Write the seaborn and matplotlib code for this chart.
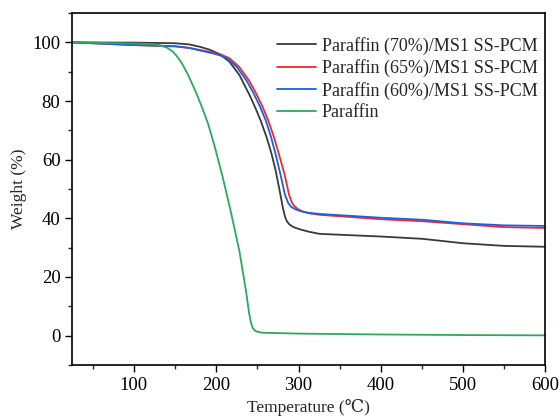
import numpy as np
import pandas as pd
import matplotlib
matplotlib.use("Agg")
import matplotlib.pyplot as plt
import seaborn as sns
from matplotlib.ticker import MultipleLocator

# TGA curves
labels = ["Paraffin (70%)/MS1 SS-PCM", "Paraffin (65%)/MS1 SS-PCM",
          "Paraffin (60%)/MS1 SS-PCM", "Paraffin"]

t70 = [25, 100, 150, 167, 180, 192, 204, 216, 228, 240, 247, 254, 261, 267, 272, 277, 281, 283.5, 286,
       289, 294, 301, 313, 325.6, 400, 451, 500, 550, 600]
w70 = [100, 99.9, 99.7, 99.3, 98.5, 97.5, 96.0, 93.4, 88.9, 82.3, 78.0, 73.3, 67.8, 62.2, 56.5, 49.5, 43.5, 40.6, 38.9,
       37.9, 37.0, 36.3, 35.4, 34.7, 33.8, 33.0, 31.5, 30.6, 30.3]

t65 = [25, 94, 150, 167, 195, 205, 216, 228, 240, 248, 256, 263, 270, 276, 283, 288.5, 292, 295, 299, 305,
       313, 325.6, 400, 451, 500, 550, 600]
w65 = [100, 99.1, 98.6, 98.1, 96.6, 95.9, 94.6, 91.6, 86.9, 82.8, 78.2, 73.5, 67.8, 62.0, 55.0, 48.0, 45.3, 44.1, 43.2, 42.3,
       41.7, 41.2, 39.7, 39.0, 38.0, 37.0, 36.7]

t60 = [25, 94, 150, 167, 195, 204, 213, 225, 237, 245, 253, 260, 266.5, 272, 278, 283.5, 287.5, 291, 296, 303,
       312, 325.6, 400, 451, 500, 550, 600]
w60 = [100, 99.2, 98.7, 98.1, 96.3, 95.6, 94.6, 91.6, 86.9, 82.8, 78.2, 73.5, 67.8, 62.0, 55.0, 48.0, 45.2, 43.9, 43.1, 42.4,
       41.9, 41.5, 40.2, 39.5, 38.3, 37.6, 37.4]

tpa = [25, 100, 120, 130, 140, 147, 153, 159, 165, 171, 177, 183, 190, 197.6, 207.7, 217.9, 228, 236,
       240, 242, 244.3, 247, 250.4, 256, 300, 400, 500, 600]
wpa = [100, 99.6, 99.4, 99.1, 98.2, 96.9, 95.0, 92.5, 89.3, 85.7, 81.8, 77.6, 72.3, 65.0, 54.2, 42.0, 29.0, 15.5,
       7.5, 4.6, 2.6, 1.7, 1.3, 1.0, 0.7, 0.4, 0.2, 0.1]

colors = ["#3a3a3a", "#ee2a2a", "#1a5fe6", "#2aaa5f"]

frames = []
for lab, t, w in zip(labels, [t70, t65, t60, tpa], [w70, w65, w60, wpa]):
    frames.append(pd.DataFrame({"T": t, "W": w, "sample": lab}))
df = pd.concat(frames, ignore_index=True)

sns.set_style("ticks")
plt.rcParams['font.family'] = ['Liberation Serif', 'DejaVu Serif']

fig = plt.figure(figsize=(5.6, 4.2), dpi=100)
ax = fig.add_axes([0.129, 0.131, 0.845, 0.838])

sns.lineplot(data=df, x="T", y="W", hue="sample", hue_order=labels,
             palette=colors, sort=False, estimator=None, linewidth=1.3, ax=ax)

ax.set_xlim(25, 600)
ax.set_ylim(-10, 110)
ax.xaxis.set_major_locator(MultipleLocator(100))
ax.xaxis.set_minor_locator(MultipleLocator(50))
ax.yaxis.set_minor_locator(MultipleLocator(10))
ax.set_yticks([0, 20, 40, 60, 80, 100])
ax.tick_params(which="major", direction="out", length=5, width=1, labelsize=13.5, colors="black")
ax.tick_params(which="minor", direction="out", length=3, width=1)
for s in ax.spines.values():
    s.set_visible(True)
    s.set_linewidth(1.2)
    s.set_color("black")

ax.set_xlabel("Temperature (\u2103)", fontsize=12.5)
ax.set_ylabel("Weight (%)", fontsize=12.5)

leg = ax.legend(loc="upper right", frameon=False, fontsize=13,
                handlelength=2.2, handletextpad=0.3, labelspacing=0.25,
                borderaxespad=0.3, bbox_to_anchor=(1.01, 0.968))

fig.savefig("out.png", dpi=100)
